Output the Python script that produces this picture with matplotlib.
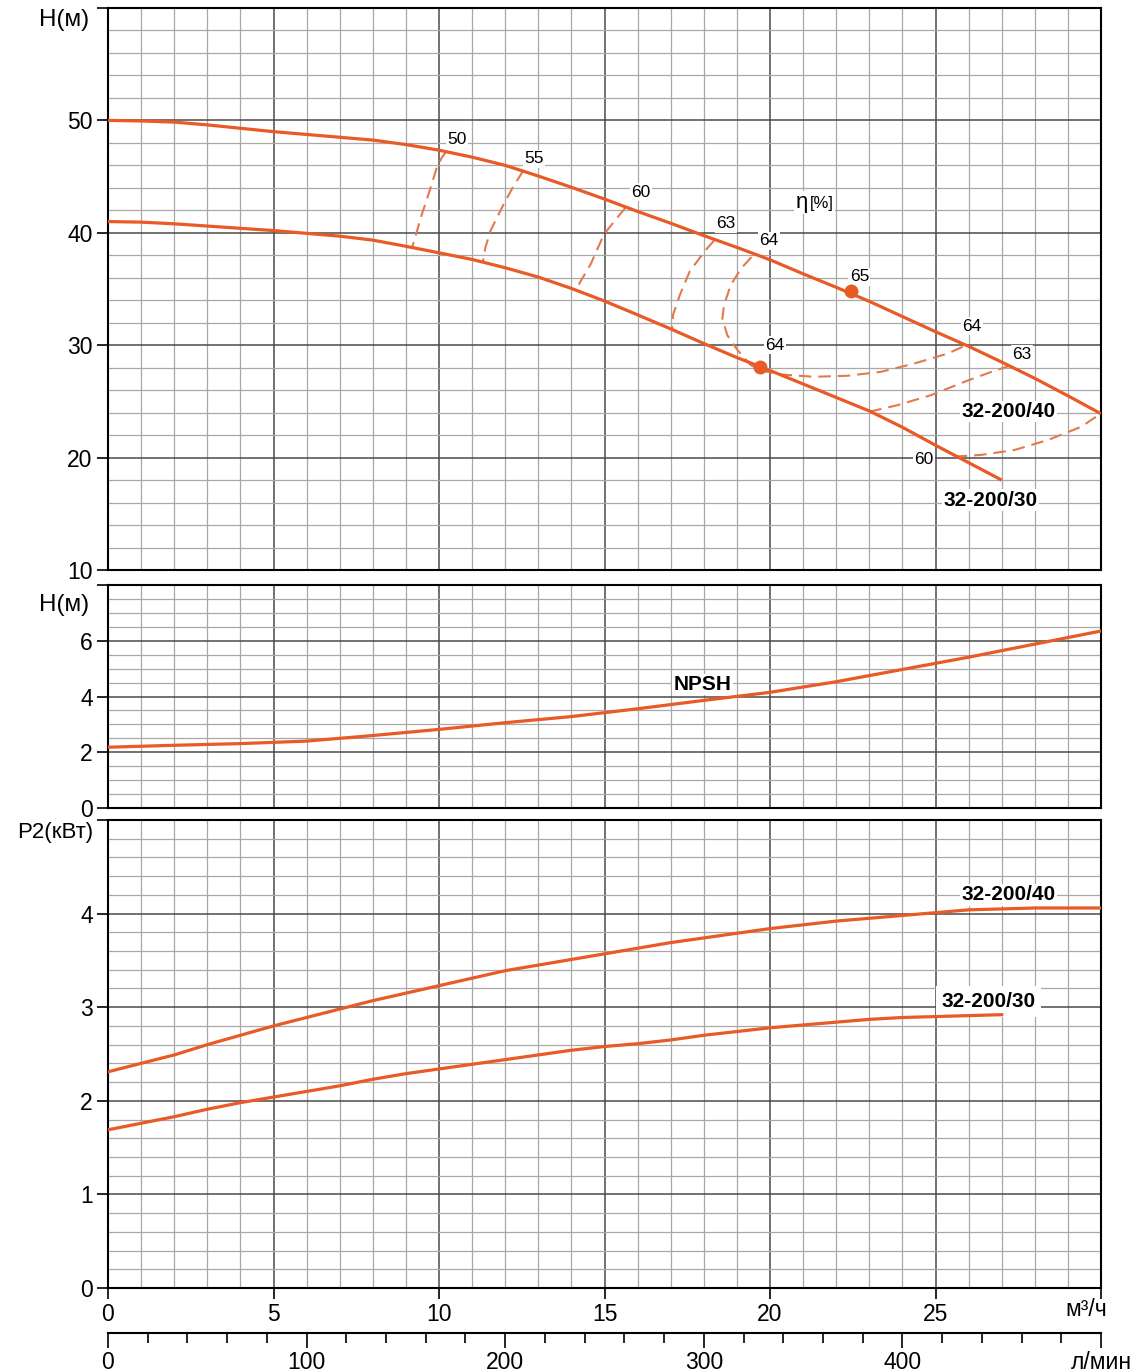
import matplotlib
matplotlib.use('Agg')
import matplotlib.pyplot as plt
from matplotlib.ticker import MultipleLocator

plt.rcParams['font.family'] = ['Liberation Sans', 'DejaVu Sans']
plt.rcParams['lines.scale_dashes'] = False

# ---------------- data ----------------
q_40 = list(range(31))
h_40 = [50.0, 49.95, 49.85, 49.6, 49.3, 49.0, 48.75, 48.5, 48.25, 47.85, 47.35,
        46.73, 46.0, 45.05, 44.05, 43.0, 41.9, 40.85, 39.75, 38.7, 37.6,
        36.35, 35.15, 33.9, 32.55, 31.2, 29.9, 28.5, 27.05, 25.5, 23.9]
q_30 = list(range(28))
h_30 = [41.0, 40.95, 40.8, 40.6, 40.4, 40.2, 39.95, 39.7, 39.35, 38.8, 38.22,
        37.63, 36.89, 36.06, 35.05, 33.93, 32.7, 31.45, 30.15, 28.9, 27.75,
        26.55, 25.35, 24.15, 22.7, 21.1, 19.55, 18.0]

# efficiency iso-lines (m3/h, m)
eta50_q = [10.23, 10.08, 9.93, 9.68, 9.48, 9.2]
eta50_h = [47.26, 46.67, 45.78, 43.4, 41.63, 38.8]
eta55_q = [12.55, 12.25, 11.95, 11.55, 11.4, 11.33]
eta55_h = [45.54, 44.15, 42.52, 40.15, 38.67, 37.42]
eta60_q = [15.63, 15.38, 14.98, 14.58, 14.3, 14.13]
eta60_h = [42.22, 41.33, 39.85, 37.19, 35.8, 34.9]
eta63_q = [18.31, 18.04, 17.58, 17.28, 17.07, 17.04]
eta63_h = [39.32, 38.4, 36.6, 34.5, 32.7, 31.4]
eta64_q = [19.44, 19.12, 18.81, 18.61, 18.56, 18.71, 19.02, 19.42, 19.8, 20.32,
           21.33, 22.34, 23.35, 24.36, 25.37, 25.88]
eta64_h = [37.84, 36.8, 35.33, 33.55, 32.37, 30.89, 29.56, 28.22, 27.7, 27.4,
           27.19, 27.28, 27.63, 28.37, 29.26, 29.94]
eta63r_q = [23.0, 23.86, 24.87, 25.88, 26.69, 27.24]
eta63r_h = [24.08, 24.67, 25.56, 26.75, 27.63, 28.17]
eta60r_q = [25.58, 26.38, 27.39, 28.4, 29.41, 29.97]
eta60r_h = [20.09, 20.24, 20.68, 21.57, 22.75, 23.88]

bep_q = [22.45, 19.7]
bep_h = [34.8, 28.1]

npsh_q = [0, 2, 4, 6, 8, 10, 12, 14, 16, 18, 20, 22, 24, 26, 28, 30]
npsh_h = [2.18, 2.25, 2.31, 2.4, 2.6, 2.82, 3.06, 3.28, 3.56, 3.86, 4.15, 4.53,
          4.97, 5.41, 5.88, 6.35]

p2_40 = [2.31, 2.40, 2.49, 2.60, 2.70, 2.80, 2.89, 2.98, 3.07, 3.15, 3.23, 3.31,
         3.39, 3.45, 3.51, 3.57, 3.63, 3.69, 3.74, 3.79, 3.84, 3.88, 3.92, 3.95,
         3.98, 4.01, 4.04, 4.05, 4.06, 4.06, 4.06]
p2_30 = [1.69, 1.76, 1.83, 1.91, 1.98, 2.04, 2.10, 2.16, 2.23, 2.29, 2.34, 2.39,
         2.44, 2.49, 2.54, 2.58, 2.61, 2.65, 2.70, 2.74, 2.78, 2.81, 2.84, 2.87,
         2.89, 2.90, 2.91, 2.92]

x_ticks = [0, 5, 10, 15, 20, 25, 30]
x_labels = ['0', '5', '10', '15', '20', '25', '']
h_ticks = [10, 20, 30, 40, 50, 60]
h_labels = ['10', '20', '30', '40', '50', '']
npsh_ticks = [0, 2, 4, 6, 8]
npsh_labels = ['0', '2', '4', '6', '']
p2_ticks = [0, 1, 2, 3, 4, 5]
p2_labels = ['0', '1', '2', '3', '4', '']
lmin_ticks = [0, 100, 200, 300, 400, 500]
lmin_labels = ['0', '100', '200', '300', '400', 'л/мин']

# ---------------- style ----------------
CURVE = '#E85A26'
DASH = '#E27A4E'
MAJ = '#4a4a4a'
MIN = '#a8a8a8'
FS = 16.5

fig = plt.figure(figsize=(11.31, 13.72), dpi=100)
L, W = 108 / 1131, 993 / 1131
ax1 = fig.add_axes([L, 1 - 570 / 1372, W, 562 / 1372])
ax2 = fig.add_axes([L, 1 - 808 / 1372, W, 223 / 1372])
ax3 = fig.add_axes([L, 1 - 1288 / 1372, W, 468 / 1372])


def style(ax, ylo, yhi, yticks, ylabels, ymin):
    ax.set_xlim(0, 30)
    ax.xaxis.set_major_locator(MultipleLocator(5))
    ax.xaxis.set_minor_locator(MultipleLocator(1))
    ax.set_yticks(yticks)
    ax.set_yticklabels(ylabels)
    ax.yaxis.set_minor_locator(MultipleLocator(ymin))
    ax.set_ylim(ylo, yhi)
    ax.grid(which='major', color=MAJ, lw=1.1, zorder=0)
    ax.grid(which='minor', color=MIN, lw=0.9, zorder=0)
    ax.set_axisbelow(True)
    ax.tick_params(which='minor', length=0)
    ax.tick_params(axis='y', which='major', length=8, width=1.2, labelsize=FS, pad=3)
    for s in ax.spines.values():
        s.set_linewidth(1.5)
        s.set_color('black')


style(ax1, 10, 60, h_ticks, h_labels, 2)
style(ax2, 0, 8, npsh_ticks, npsh_labels, 0.5)
style(ax3, 0, 5, p2_ticks, p2_labels, 0.2)
for ax in (ax1, ax2):
    ax.tick_params(axis='x', which='both', bottom=False, labelbottom=False)

ax3.set_xticks(x_ticks)
ax3.set_xticklabels(x_labels)
ax3.tick_params(axis='x', which='major', length=8, width=1.2, labelsize=FS, pad=3)
ax3.set_xlim(0, 30)

# secondary l/min axis
sec = ax3.secondary_xaxis(-0.0955, functions=(lambda q: q * 1000 / 60, lambda l: l * 60 / 1000))
sec.set_xticks(lmin_ticks)
sec.set_xticklabels(lmin_labels)
sec.xaxis.set_minor_locator(MultipleLocator(20))
sec.tick_params(which='major', length=11, width=1.2, labelsize=FS, pad=2)
sec.tick_params(which='minor', length=7, width=1.2)
sec.spines['bottom'].set_linewidth(1.5)

fig.text(30.2 / 30 * W + L, 1 - 1310 / 1372, 'м³/ч', ha='right', va='center', fontsize=FS)

# ---------------- top: H-Q ----------------
ax1.plot(q_40, h_40, color=CURVE, lw=2.3, zorder=4, solid_capstyle='butt')
ax1.plot(q_30, h_30, color=CURVE, lw=2.3, zorder=4, solid_capstyle='butt')
for qq, hh in [(eta50_q, eta50_h), (eta55_q, eta55_h), (eta60_q, eta60_h),
               (eta63_q, eta63_h), (eta64_q, eta64_h), (eta63r_q, eta63r_h),
               (eta60r_q, eta60r_h)]:
    ax1.plot(qq, hh, color=DASH, lw=1.5, dashes=(9, 5), zorder=3)
ax1.plot(bep_q, bep_h, 'o', color=CURVE, ms=9, zorder=5)

bb = dict(facecolor='white', edgecolor='none', pad=1.0)
effl = [('50', 10.54, 48.3), ('55', 12.87, 46.6), ('60', 16.1, 43.6),
        ('63', 18.67, 40.8), ('64', 19.97, 39.3), ('65', 22.7, 36.1),
        ('64', 26.1, 31.7), ('63', 27.6, 29.2), ('64', 20.15, 30.0),
        ('60', 24.65, 19.8)]
for t, x, y in effl:
    ax1.text(x, y, t, fontsize=12.5, ha='center', va='center', bbox=bb, zorder=3.5)
ax1.text(21.15, 42.7, 'η', fontsize=16, ha='right', va='center', bbox=bb, zorder=3.5)
ax1.text(21.2, 42.6, '[%]', fontsize=12, ha='left', va='center', bbox=bb, zorder=3.5)
ax1.text(27.2, 24.1, '32-200/40', fontsize=15, fontweight='bold', ha='center',
         va='center', bbox=bb, zorder=3.5)
ax1.text(26.65, 16.2, '32-200/30', fontsize=15, fontweight='bold', ha='center',
         va='center', bbox=bb, zorder=3.5)

# ---------------- middle: NPSH ----------------
ax2.plot(npsh_q, npsh_h, color=CURVE, lw=2.3, zorder=4)
ax2.text(17.95, 4.43, 'NPSH', fontsize=15, fontweight='bold', ha='center',
         va='center', bbox=bb, zorder=3.5)

# ---------------- bottom: P2 ----------------
ax3.plot(q_40, p2_40, color=CURVE, lw=2.3, zorder=4)
ax3.plot(q_30, p2_30, color=CURVE, lw=2.3, zorder=4)
ax3.text(27.2, 4.2, '32-200/40', fontsize=15, fontweight='bold', ha='center',
         va='center', bbox=bb, zorder=3.5)
ax3.text(26.6, 3.06, '32-200/30', fontsize=15, fontweight='bold', ha='center',
         va='center', bbox=dict(facecolor='white', edgecolor='none', pad=4), zorder=3.5)

# axis titles
fig.text(64 / 1131, 1 - 20 / 1372, 'H(м)', fontsize=17.5, ha='center', va='center')
fig.text(64 / 1131, 1 - 605 / 1372, 'H(м)', fontsize=17.5, ha='center', va='center')
fig.text(55 / 1131, 1 - 833 / 1372, 'P2(кВт)', fontsize=16, ha='center', va='center')

fig.savefig('out.png', dpi=100, facecolor='white')
